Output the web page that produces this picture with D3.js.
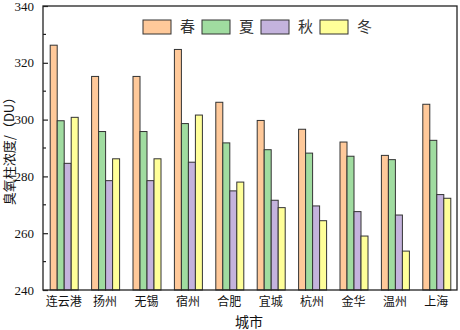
<!DOCTYPE html>
<html>
<head>
<meta charset="utf-8">
<script src="https://cdn.jsdelivr.net/npm/d3@7"></script>
<style>
  body { margin: 0; background: #fff; }
  svg { display: block; }
</style>
</head>
<body>
<svg width="460" height="330"></svg>
<script>
'use strict';
const cities = ['连云港', '扬州', '无锡', '宿州', '合肥', '宜城', '杭州', '金华', '温州', '上海'];
const seasons = ['春', '夏', '秋', '冬'];
const spring = [326.2, 315.2, 315.2, 324.7, 306.1, 299.7, 296.6, 292.1, 287.4, 305.4];
const summer = [299.6, 295.8, 295.8, 298.6, 291.8, 289.4, 288.2, 287.1, 285.9, 292.7];
const autumn = [284.6, 278.5, 278.5, 285.0, 274.9, 271.6, 269.6, 267.6, 266.4, 273.6];
const winter = [300.8, 286.2, 286.2, 301.6, 278.0, 269.0, 264.4, 259.0, 253.7, 272.3];
const y_ticks = [240, 260, 280, 300, 320, 340];
const colors = ['#ffc99a', '#a0dca0', '#c4b3dd', '#ffff99'];

const series = [spring, summer, autumn, winter];

const svg = d3.select('svg');
const margin = {top: 6, right: 3, bottom: 40, left: 43};
const chart_width = 460 - margin.left - margin.right;
const chart_height = 330 - margin.top - margin.bottom;
const chart_g = svg.append('g').attr('transform', `translate(${margin.left},${margin.top})`);

const serif = '"Liberation Serif", "Times New Roman", serif';
const cjk = '"Noto Sans CJK SC", sans-serif';

//scales
const outer_scale = d3.scaleBand().domain(cities).range([0, chart_width]);
const bar_w = 7;
const inner_scale = d3.scaleBand().domain(seasons).range([0, bar_w * 4]);
const y_scale = d3.scaleLinear().domain([240, 340]).range([chart_height, 0]);

//bars
const groups = chart_g.append('g')
  .selectAll('g').data(cities).enter()
  .append('g')
  .attr('transform', d => `translate(${outer_scale(d) + (outer_scale.bandwidth() - bar_w * 4) / 2},0)`);

groups.selectAll('rect')
  .data((d, i) => series.map((s, j) => ({season: seasons[j], v: s[i], j})))
  .enter()
  .append('rect')
  .attr('x', d => inner_scale(d.season) + 0.5)
  .attr('y', d => y_scale(d.v))
  .attr('width', bar_w)
  .attr('height', d => chart_height - y_scale(d.v))
  .attr('fill', d => colors[d.j])
  .attr('stroke', '#333')
  .attr('stroke-width', 1);

//frame
chart_g.append('rect')
  .attr('x', 0).attr('y', 0)
  .attr('width', chart_width).attr('height', chart_height)
  .attr('fill', 'none').attr('stroke', '#222').attr('stroke-width', 1.3);

//left axis (ticks inward)
const y_axis = chart_g.append('g')
  .call(d3.axisLeft(y_scale).tickValues(y_ticks).tickSize(-5).tickPadding(9));
y_axis.select('.domain').remove();
y_axis.selectAll('line').attr('stroke', '#222').attr('stroke-width', 1.2);
y_axis.selectAll('text')
  .attr('font-family', serif).attr('font-size', 13).attr('fill', '#111');

const minor = d3.range(250, 340, 20);
chart_g.append('g').selectAll('line').data(minor).enter()
  .append('line')
  .attr('x1', 0).attr('x2', 3)
  .attr('y1', d => y_scale(d)).attr('y2', d => y_scale(d))
  .attr('stroke', '#222').attr('stroke-width', 1.2);

//bottom axis
const x_axis = chart_g.append('g')
  .attr('transform', `translate(0,${chart_height})`)
  .call(d3.axisBottom(outer_scale).tickSize(0).tickPadding(7));
x_axis.select('.domain').remove();
x_axis.selectAll('text')
  .attr('font-family', cjk).attr('font-size', 12).attr('fill', '#111');

//axis titles
svg.append('text')
  .attr('x', 249)
  .attr('y', 327)
  .attr('text-anchor', 'middle')
  .attr('font-family', cjk).attr('font-size', 14).attr('fill', '#111')
  .text('城市');

svg.append('text')
  .attr('transform', `translate(9,${margin.top + chart_height / 2}) rotate(-90)`)
  .attr('text-anchor', 'middle')
  .attr('dy', '0.35em')
  .attr('font-family', cjk).attr('font-size', 13).attr('fill', '#111')
  .text('臭氧柱浓度/（DU）');

//legend
const legend = chart_g.append('g')
  .selectAll('g').data(seasons).enter()
  .append('g')
  .attr('transform', (d, i) => `translate(${100 + i * 59},14)`);

legend.append('rect')
  .attr('width', 28).attr('height', 14)
  .attr('fill', (d, i) => colors[i])
  .attr('stroke', '#333').attr('stroke-width', 1);

legend.append('text')
  .attr('x', 37).attr('y', 7)
  .attr('dy', '0.35em')
  .attr('font-family', cjk).attr('font-size', 15).attr('fill', '#333')
  .text(d => d);
</script>
</body>
</html>
